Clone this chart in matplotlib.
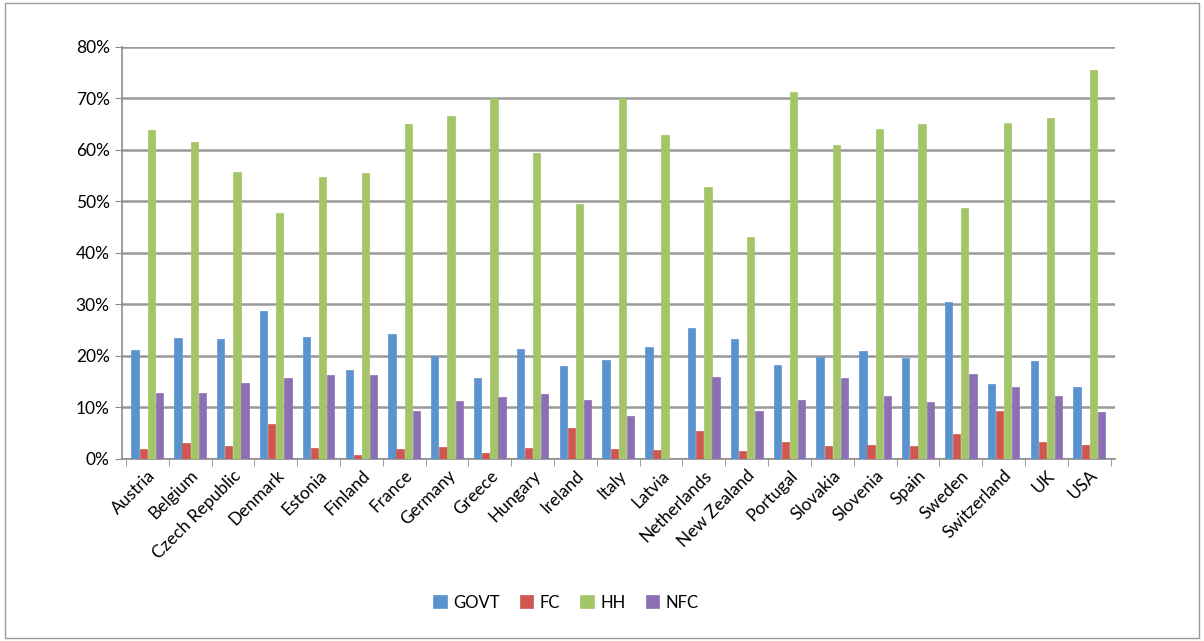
import matplotlib
matplotlib.use("Agg")
import matplotlib.pyplot as plt
import numpy as np
from matplotlib.patches import Rectangle
from matplotlib.ticker import PercentFormatter, FixedLocator

countries = ["Austria", "Belgium", "Czech Republic", "Denmark", "Estonia", "Finland",
             "France", "Germany", "Greece", "Hungary", "Ireland", "Italy", "Latvia",
             "Netherlands", "New Zealand", "Portugal", "Slovakia", "Slovenia", "Spain",
             "Sweden", "Switzerland", "UK", "USA"]
govt = [21.2, 23.5, 23.3, 28.8, 23.7, 17.2, 24.2, 20.0, 15.8, 21.3, 18.0, 19.3, 21.8,
        25.5, 23.2, 18.2, 19.8, 21.0, 19.5, 30.5, 14.5, 19.0, 14.0]
fc = [2.0, 3.0, 2.5, 6.8, 2.2, 0.8, 2.0, 2.3, 1.2, 2.2, 6.0, 2.0, 1.8,
      5.5, 1.5, 3.2, 2.5, 2.7, 2.5, 4.9, 9.3, 3.3, 2.7]
hh = [63.9, 61.5, 55.7, 47.8, 54.8, 55.6, 65.1, 66.6, 70.0, 59.3, 49.5, 70.0, 62.8,
      52.8, 43.1, 71.2, 61.0, 64.0, 65.0, 48.7, 65.2, 66.1, 75.5]
nfc = [12.8, 12.8, 14.8, 15.7, 16.2, 16.2, 9.4, 11.3, 12.0, 12.6, 11.4, 8.3, 0.0,
       15.9, 9.4, 11.5, 15.7, 12.2, 11.0, 16.5, 14.0, 12.2, 9.2]
series_names = ["GOVT", "FC", "HH", "NFC"]
colors = ["#5B93CE", "#D0574F", "#A3C467", "#8C70B3"]

plt.rcParams['font.family'] = ['Lato', 'DejaVu Sans']
fig = plt.figure(figsize=(12.04, 6.41), dpi=100)
fig.patches.append(Rectangle((0.004, 0.005), 0.992, 0.99, transform=fig.transFigure,
                             fill=False, edgecolor="#9a9a9a", linewidth=1.0))
ax = fig.add_axes([0.101, 0.284, 0.825, 0.643])

x = np.arange(len(countries))
data = [govt, fc, hh, nfc]
w = 0.19
for i, (vals, c) in enumerate(zip(data, colors)):
    ax.bar(x + (i - 1.5) * w, vals, width=0.17, color=c, edgecolor=c, linewidth=0.5,
           label=series_names[i], zorder=3)

ax.set_xlim(-0.6, len(countries) - 0.4)
ax.set_ylim(0, 80)
ax.set_yticks(np.arange(0, 81, 10))
ax.yaxis.set_major_formatter(PercentFormatter(decimals=0))
ax.yaxis.grid(True, color="#999999", linewidth=1.8, zorder=0)
ax.set_axisbelow(True)
ax.set_xticks(x)
ax.set_xticklabels(countries, rotation=45, ha="right", rotation_mode="anchor", fontsize=12.5)
ax.xaxis.set_minor_locator(FixedLocator(np.arange(-0.5, len(countries), 1.0)))
ax.tick_params(axis="x", which="major", length=0, pad=6)
ax.tick_params(axis="x", which="minor", length=5, color="#8c8c8c")
ax.tick_params(axis="y", length=5, color="#8c8c8c", labelsize=12.5)
for s in ["top", "right"]:
    ax.spines[s].set_visible(False)
ax.spines["left"].set_color("#8c8c8c")
ax.spines["bottom"].set_color("#8c8c8c")
ax.spines["left"].set_linewidth(1.2)
ax.spines["bottom"].set_linewidth(1.2)

fig.legend(loc="center", bbox_to_anchor=(0.47, 0.06), ncol=4, frameon=False,
           fontsize=12, handlelength=0.8, handleheight=0.8, handletextpad=0.4,
           columnspacing=1.2)

fig.savefig("out.png", dpi=100)
